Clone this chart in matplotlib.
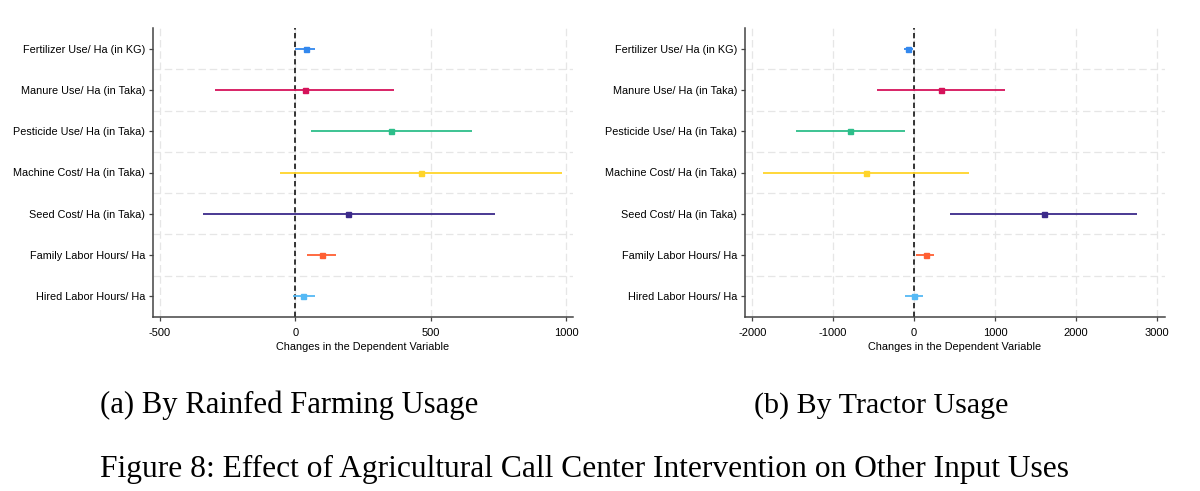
import matplotlib
matplotlib.use("Agg")
import matplotlib.pyplot as plt

# categories, top to bottom
LABELS = [
    "Fertilizer Use/ Ha (in KG)",
    "Manure Use/ Ha (in Taka)",
    "Pesticide Use/ Ha (in Taka)",
    "Machine Cost/ Ha (in Taka)",
    "Seed Cost/ Ha (in Taka)",
    "Family Labor Hours/ Ha",
    "Hired Labor Hours/ Ha",
]
COLORS = ["#3388EE", "#D5135A", "#2DBE8A", "#FFD42A", "#3C2A8A", "#FF5F33", "#55B9F5"]

# (a) rainfed farming
RAIN_COEF = [40, 34, 355, 465, 196, 97, 29]
RAIN_LO = [0, -296, 58, -55, -343, 43, -10]
RAIN_HI = [71, 366, 653, 986, 738, 151, 71]
RAIN_TICKS = [-500, 0, 500, 1000]

# (b) tractor usage
TRACTOR_COEF = [-71, 326, -794, -600, 1599, 142, 0]
TRACTOR_LO = [-128, -462, -1465, -1867, 440, 28, -108]
TRACTOR_HI = [-9, 1121, -113, 677, 2747, 251, 109]
TRACTOR_TICKS = [-2000, -1000, 0, 1000, 2000, 3000]

SANS = ["Liberation Sans", "DejaVu Sans"]
SERIF = ["Liberation Serif", "DejaVu Serif"]

W, H = 1200, 491


def coefplot(ax, coef, lo, hi, ticks, xlim):
    pos = list(range(1, len(LABELS) + 1))
    for y in [p + 0.5 for p in pos[:-1]]:
        ax.axhline(y, color="#e6e6e6", lw=0.9, ls=(0, (6, 3)), zorder=0)
    for t in ticks:
        ax.axvline(t, color="#e6e6e6", lw=0.9, ls=(0, (6, 3)), zorder=0)
    ax.axvline(0, color="black", lw=1.1, ls=(0, (3.5, 2.2)), zorder=1)
    for y, c, l, h, col in zip(pos, coef, lo, hi, COLORS):
        ax.hlines(y, l, h, color=col, lw=1.3, zorder=2)
        ax.plot(c, y, marker="s", ms=3.6, color=col, zorder=3)
    ax.set_ylim(7.5, 0.5)
    ax.set_xlim(*xlim)
    ax.set_yticks(pos)
    ax.set_yticklabels(LABELS, family=SANS, fontsize=7.8)
    ax.set_xticks(ticks)
    ax.set_xticklabels([str(t) for t in ticks], family=SANS, fontsize=8)
    ax.set_xlabel("Changes in the Dependent Variable", family=SANS, fontsize=7.8, labelpad=3.5)
    for s in ["top", "right"]:
        ax.spines[s].set_visible(False)
    for s in ["left", "bottom"]:
        ax.spines[s].set_color("#444444")
        ax.spines[s].set_linewidth(1.1)
    ax.tick_params(axis="both", direction="out", length=3.2, width=0.9, color="#444444")
    ax.tick_params(axis="y", pad=2.6)
    ax.tick_params(axis="x", pad=4.4)


fig = plt.figure(figsize=(W / 100, H / 100), dpi=100)
ax1 = fig.add_axes([153 / W, 1 - 317 / H, 420 / W, 289 / H])
ax2 = fig.add_axes([745 / W, 1 - 317 / H, 420 / W, 289 / H])

coefplot(ax1, RAIN_COEF, RAIN_LO, RAIN_HI, RAIN_TICKS, (-526, 1026))
coefplot(ax2, TRACTOR_COEF, TRACTOR_LO, TRACTOR_HI, TRACTOR_TICKS, (-2089, 3098))

cap_a = fig.text(289 / W, 1 - 413 / H, "(a) By Rainfed Farming Usage", family=SERIF,
                 fontsize=17, ha="center", va="baseline")
cap_b = fig.text(881 / W, 1 - 413 / H, "(b) By Tractor Usage", family=SERIF,
                 fontsize=17, ha="center", va="baseline")
cap_f = fig.text(585 / W, 1 - 476.5 / H,
                 "Figure 8: Effect of Agricultural Call Center Intervention on Other Input Uses",
                 family=SERIF, fontsize=17, ha="center", va="baseline")

# scale caption sizes so their widths match the page layout
renderer = fig.canvas.get_renderer()
for txt, width in [(cap_a, 378), (cap_b, 255), (cap_f, 971)]:
    w = txt.get_window_extent(renderer).width
    txt.set_fontsize(txt.get_fontsize() * width / w)

fig.savefig("out.png", dpi=100, facecolor="white")
